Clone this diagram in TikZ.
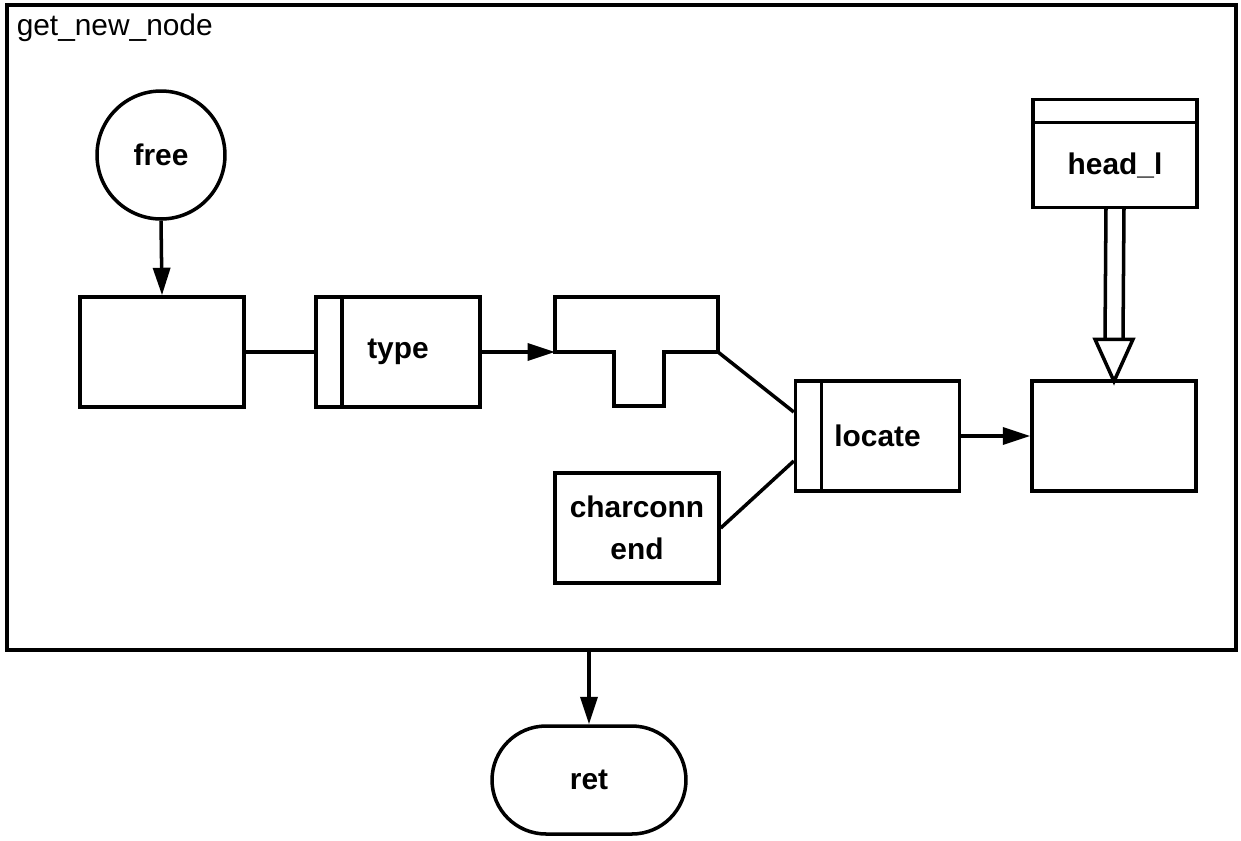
\documentclass[tikz,border=0pt]{standalone}
\usepackage{fontspec}
\setmainfont{Liberation Sans}
\usepackage{tikz}
\usetikzlibrary{arrows.meta, positioning, calc, shapes.misc}

\begin{document}
\begin{tikzpicture}[x=0.02cm, y=-0.02cm, line width=2pt,
    box/.style={draw, line width=2pt, minimum width=3.28cm, minimum height=2.2cm, inner sep=0pt,
      font=\fontsize{17}{24}\selectfont\bfseries, align=center},
    procbox/.style={box, path picture={\draw[line width=2pt]
      ([xshift=0.52cm]path picture bounding box.north west) -- ([xshift=0.52cm]path picture bounding box.south west);}},
    tip/.style={-{Triangle[length=0.55cm, width=0.34cm]}}]
    \useasboundingbox (0,0) rectangle (1241,840);
    \node[draw, line width=2.2pt, minimum width=24.58cm, minimum height=12.9cm, inner sep=0pt] (frame) at (621.5,327.5) {};
    \node[anchor=north west, inner sep=0pt, font=\fontsize{17}{20}\selectfont] (title) at (15,12) {get\_new\_node};
    % free list and new node
    \node[draw, circle, line width=2pt, minimum size=2.56cm, inner sep=0pt, font=\fontsize{17}{20}\selectfont\bfseries] (free) at (161,155) {free};
    \node[box] (newnode) at (162,352) {};
    \node[procbox] (type) at (398,352) {type};
    % T-shaped record
    \draw[line join=miter] (555,352) -- (555,297) -- (718,297) -- (718,352) -- (664,352) -- (664,406) -- (614,406) -- (614,352) -- cycle;
    \coordinate (tin) at (555,352);
    \coordinate (tout) at (718,352);
    \node[procbox] (locate) at (877.5,436) {locate};
    \node[box] (charconn) at (637,528) {charconn\\end};
    \node[box] (slot) at (1114,436) {};
    \node[box, minimum height=1.7cm, outer sep=0pt] (headl) at (1115,165) {head\_l};
    \draw (headl.north west) rectangle ($(headl.north east)+(0,-23)$);
    \node[draw, rounded rectangle, line width=2pt, minimum width=3.88cm, minimum height=2.16cm, inner sep=0pt,
      font=\fontsize{17}{20}\selectfont\bfseries] (ret) at (589,780) {ret};
    % connectors
    \draw[tip] (free.south) -- (newnode.north);
    \draw (newnode.east) -- (type.west);
    \draw[tip] (type.east) -- (tin);
    \draw (tout) -- ($(locate.west)+(0,-24)$);
    \draw (charconn.east) -- ($(locate.west)+(0,25)$);
    \draw[tip] (locate.east) -- (slot.west);
    \draw ($(headl.south)+(-9,0)$) -- ($(slot.north)+(-9,-40)$);
    \draw ($(headl.south)+(9,0)$) -- ($(slot.north)+(9,-40)$);
    \draw[line join=miter] ($(slot.north)+(-19,-40)$) -- ($(slot.north)+(19,-40)$) -- ($(slot.north)+(0,2)$) -- cycle;
    \draw[tip] (ret |- frame.south) -- (ret.north);
\end{tikzpicture}
\end{document}
